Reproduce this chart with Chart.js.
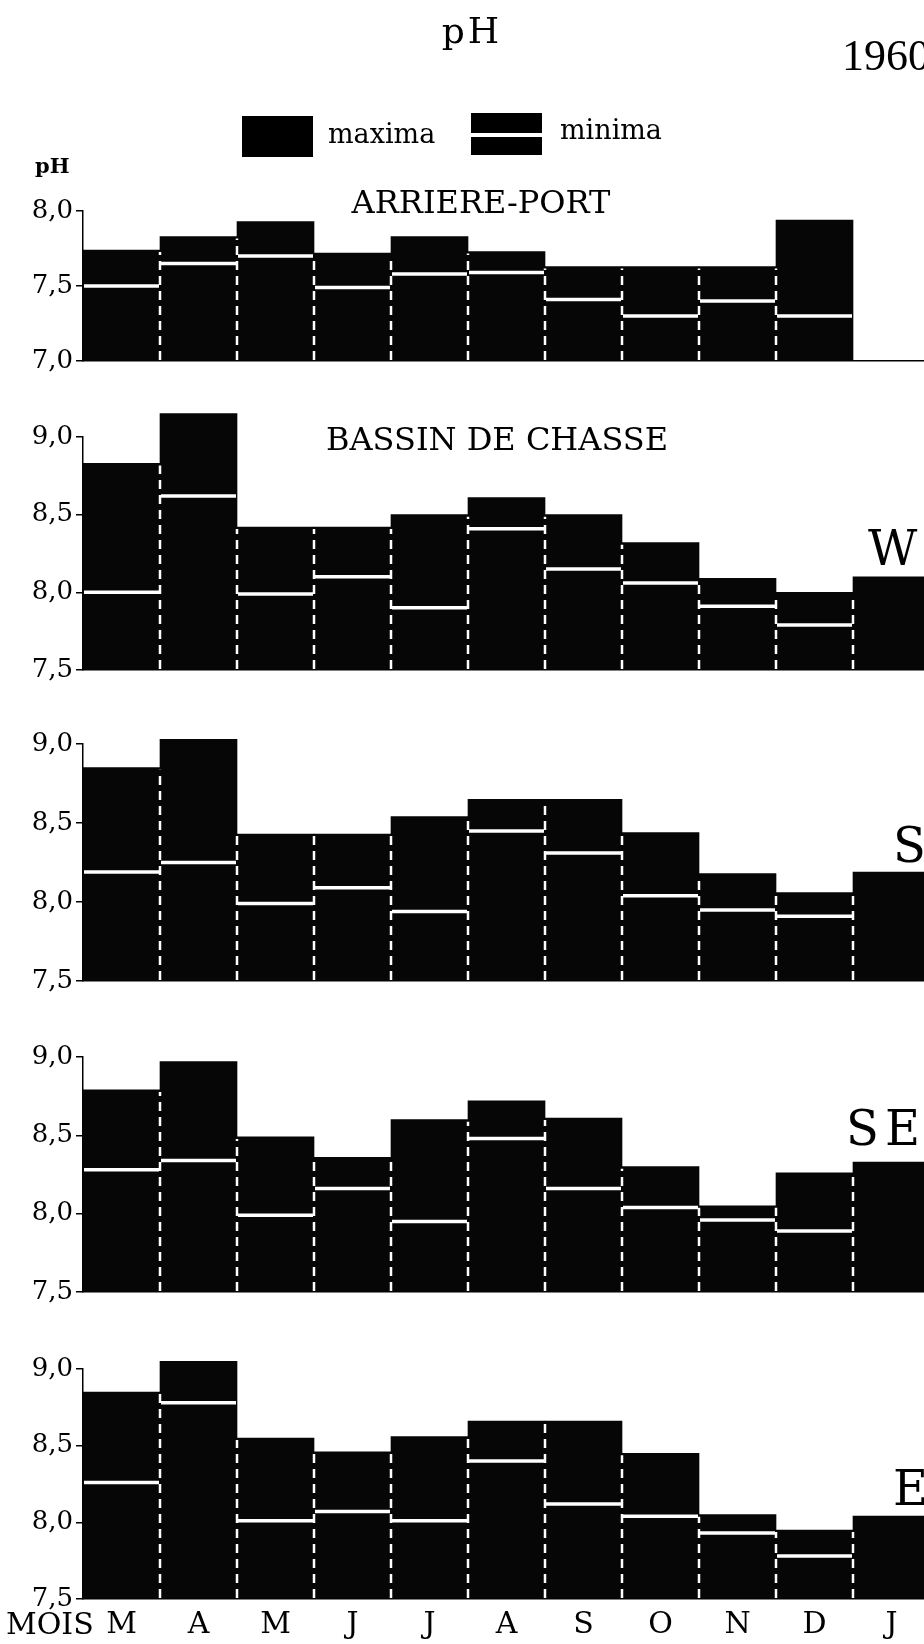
<!DOCTYPE html>
<html><head><meta charset="utf-8">
<script src="https://cdn.jsdelivr.net/npm/chart.js@4.4.1/dist/chart.umd.min.js"></script>
<style>
html,body{margin:0;padding:0;background:#fff;overflow:hidden;width:924px;height:1644px;}
canvas{position:absolute;left:0;top:0;}
</style></head><body>
<canvas id="c1" width="930" height="1644"></canvas>
<canvas id="c2" width="930" height="1644"></canvas>
<canvas id="c3" width="930" height="1644"></canvas>
<canvas id="c4" width="930" height="1644"></canvas>
<canvas id="c5" width="930" height="1644"></canvas>
<script>
// ---- data ----
const months = ['M','A','M','J','J','A','S','O','N','D','J'];
const yTicksAP = [7.0, 7.5, 8.0];
const yTicksBC = [7.5, 8.0, 8.5, 9.0];

// ARRIERE-PORT
const apMax = [7.74, 7.83, 7.93, 7.72, 7.83, 7.73, 7.63, 7.63, 7.63, 7.94, null];
const apMin = [7.50, 7.65, 7.70, 7.49, 7.58, 7.59, 7.41, 7.30, 7.40, 7.30, null];
// BASSIN DE CHASSE - W
const wMax = [8.83, 9.15, 8.42, 8.42, 8.50, 8.61, 8.50, 8.32, 8.09, 8.00, 8.10];
const wMin = [8.00, 8.62, 7.99, 8.10, 7.90, 8.41, 8.15, 8.06, 7.91, 7.79, null];
// S
const sMax = [8.85, 9.03, 8.43, 8.43, 8.54, 8.65, 8.65, 8.44, 8.18, 8.06, 8.19];
const sMin = [8.19, 8.25, 7.99, 8.09, 7.94, 8.45, 8.31, 8.04, 7.95, 7.91, null];
// SE
const seMax = [8.79, 8.97, 8.49, 8.36, 8.60, 8.72, 8.61, 8.30, 8.05, 8.26, 8.33];
const seMin = [8.28, 8.34, 7.99, 8.16, 7.95, 8.48, 8.16, 8.04, 7.96, 7.89, null];
// E
const eMax = [8.85, 9.05, 8.55, 8.46, 8.56, 8.66, 8.66, 8.45, 8.05, 7.95, 8.04];
const eMin = [8.26, 8.78, 8.01, 8.07, 8.01, 8.40, 8.12, 8.04, 7.93, 7.78, null];

const SERIF = '"DejaVu Serif", "Liberation Serif", serif';
const TIMES = '"Liberation Serif", serif';

function separatorPlugin(maxs){
  return {
    id:'separators',
    afterDatasetsDraw(chart){
      const meta = chart.getDatasetMeta(1);
      const y = chart.scales.y;
      const ctx = chart.ctx;
      const bottom = chart.chartArea.bottom;
      ctx.save();
      ctx.strokeStyle = '#fff';
      ctx.lineWidth = 2.5;
      ctx.setLineDash([9,6]);
      for (let i = 0; i < maxs.length - 1; i++) {
        if (maxs[i] == null || maxs[i+1] == null) continue;
        const x = (meta.data[i].x + meta.data[i+1].x) / 2;
        const top = y.getPixelForValue(Math.min(maxs[i], maxs[i+1]));
        ctx.beginPath();
        ctx.moveTo(x, bottom - 1);
        ctx.lineTo(x, top + 2);
        ctx.stroke();
      }
      ctx.restore();
    }
  };
}

function decorPlugin(items){
  return {
    id:'decor',
    afterDraw(chart){
      const ctx = chart.ctx;
      ctx.save();
      items.forEach(it => {
        if (it.rect) {
          ctx.fillStyle = it.color || '#000';
          ctx.fillRect(it.x, it.y, it.w, it.h);
          return;
        }
        ctx.fillStyle = '#000';
        ctx.font = (it.bold ? 'bold ' : '') + it.size + 'px ' + (it.family || SERIF);
        ctx.textAlign = it.align || 'left';
        ctx.textBaseline = 'alphabetic';
        if ('letterSpacing' in ctx) ctx.letterSpacing = (it.spacing || 0) + 'px';
        ctx.fillText(it.text, it.x, it.y);
        if ('letterSpacing' in ctx) ctx.letterSpacing = '0px';
      });
      ctx.restore();
    }
  };
}

function makePanel(id, maxs, mins, ticks, topPx, bottomPx, xLabelH, items){
  return new Chart(document.getElementById(id), {
    type:'bar',
    data:{
      labels: months,
      datasets:[
        {type:'line', label:'minima', data: mins, showLine:false, pointStyle:'line',
         pointRadius:37.5, pointHoverRadius:37.5, pointBorderWidth:3.5, pointBorderColor:'#fff',
         pointBackgroundColor:'#fff', borderColor:'#fff', order:0, clip:false},
        {type:'bar', label:'maxima', data: maxs, backgroundColor:'#060606', borderWidth:0,
         base: ticks[0], categoryPercentage:1, barPercentage:1, order:1, clip:false}
      ]
    },
    options:{
      responsive:false, animation:false, events:[], devicePixelRatio:1,
      layout:{autoPadding:false, padding:{top:topPx, bottom:1644 - bottomPx - xLabelH, left:0, right:0}},
      plugins:{legend:{display:false}, tooltip:{enabled:false}},
      scales:{
        x:{
          grid:{display:false},
          border:{display:true, color:'#000', width:1.5},
          ticks:{display:xLabelH > 0, font:{family:SERIF, size:30}, color:'#000', padding:0, maxRotation:0, autoSkip:false},
          afterFit(s){ s.height = xLabelH; }
        },
        y:{
          min: ticks[0], max: ticks[ticks.length - 1],
          afterBuildTicks(s){ s.ticks = ticks.map(v => ({value:v})); },
          grid:{drawOnChartArea:false, drawTicks:true, tickLength:7, color:'#000', lineWidth:1.5},
          border:{display:true, color:'#000', width:1.5},
          ticks:{font:{family:SERIF, size:26}, color:'#000', padding:3,
                 callback: v => Number(v).toFixed(1).replace('.', ',')},
          afterFit(s){ s.width = 83; }
        }
      }
    },
    plugins:[separatorPlugin(maxs), decorPlugin(items)]
  });
}

makePanel('c1', apMax, apMin, yTicksAP, 211, 361, 0, [
  {text:'pH', x:472, y:43, size:36, align:'center', spacing:3},
  {text:'1960', x:842, y:70, size:44, family:TIMES},
  {rect:true, x:242, y:116, w:71, h:41},
  {text:'maxima', x:328, y:143, size:27},
  {rect:true, x:471, y:113, w:71, h:42},
  {rect:true, x:471, y:133, w:71, h:4, color:'#fff'},
  {text:'minima', x:560, y:139, size:27},
  {text:'pH', x:35, y:173, size:21, bold:true},
  {text:'ARRIERE-PORT', x:481, y:213, size:32, align:'center'}
]);
makePanel('c2', wMax, wMin, yTicksBC, 437, 670, 0, [
  {text:'BASSIN DE CHASSE', x:497, y:450, size:32, align:'center'},
  {text:'W', x:868, y:565, size:48}
]);
makePanel('c3', sMax, sMin, yTicksBC, 744, 981, 0, [
  {text:'S', x:893, y:862, size:48}
]);
makePanel('c4', seMax, seMin, yTicksBC, 1057, 1292, 0, [
  {text:'SE', x:846, y:1145, size:48, spacing:6}
]);
makePanel('c5', eMax, eMin, yTicksBC, 1369, 1599, 45, [
  {text:'E', x:893, y:1505, size:48},
  {text:'MOIS', x:6, y:1634, size:30}
]);
</script>
</body></html>
